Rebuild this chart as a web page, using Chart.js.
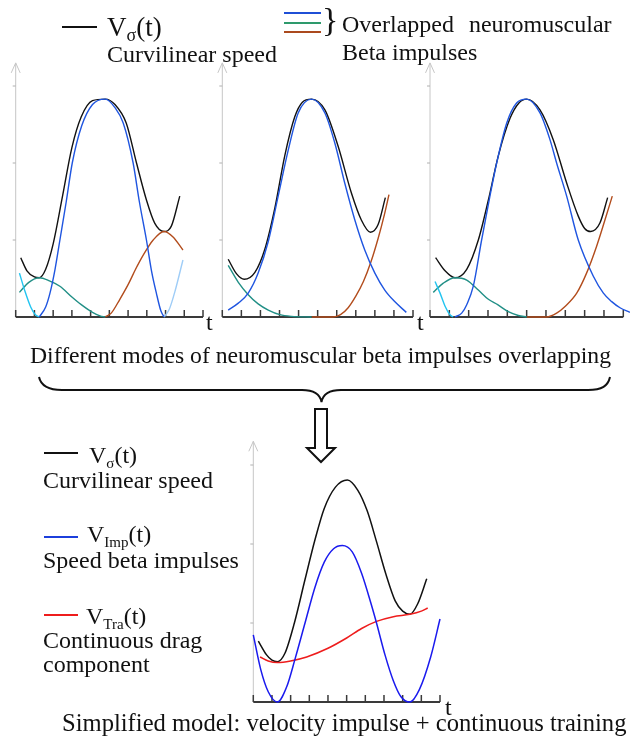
<!DOCTYPE html>
<html>
<head>
<meta charset="utf-8">
<script src="https://cdn.jsdelivr.net/npm/chart.js@4.4.1/dist/chart.umd.min.js"></script>
<style>
  body { margin: 0; background: #fff; }
  #page { position: relative; width: 631px; height: 738px; overflow: hidden;
          font-family: "Liberation Serif", "Times New Roman", serif; color: #111; }
  #page canvas { position: absolute; }
  .txt { position: absolute; font-size: 24px; line-height: 24px; white-space: nowrap; }
  .big { font-size: 27px; line-height: 27px; }
  .sub { font-size: 15px; position: relative; top: 5px; }
  .big .sub { font-size: 18px; top: 5px; }
  .key { position: absolute; height: 2px; }
</style>
</head>
<body>
<div id="page">
  <canvas id="mode1"></canvas>
  <canvas id="mode2"></canvas>
  <canvas id="mode3"></canvas>
  <canvas id="simple"></canvas>

  <svg width="631" height="738" style="position:absolute;left:0;top:0">
    <path d="M39,377 C41,386 48,390 62,390 L302,390 C314,390 320,394 321.5,402 C323,394 329,390 341,390 L588,390 C602,390 608,386 610,377"
          fill="none" stroke="#111" stroke-width="2"/>
    <polygon points="315,409 327,409 327,448 335,448 321,462 307,448 315,448"
             fill="#fff" stroke="#111" stroke-width="2"/>
  </svg>

  <!-- top legend -->
  <div class="key" style="left:62px;top:26px;width:35px;background:#111"></div>
  <div class="txt big" style="left:107px;top:14px">V<span class="sub">σ</span>(t)</div>
  <div class="txt" style="left:107px;top:42px">Curvilinear speed</div>
  <div class="key" style="left:284px;top:12px;width:37px;background:#1f4fd6"></div>
  <div class="key" style="left:284px;top:22px;width:37px;background:#2e9a6c"></div>
  <div class="key" style="left:284px;top:31px;width:37px;background:#ab4a1e"></div>
  <div class="txt" style="left:322px;top:3px;font-size:34px;line-height:34px">}</div>
  <div class="txt" style="left:342px;top:12px;word-spacing:9px">Overlapped neuromuscular</div>
  <div class="txt" style="left:342px;top:40px">Beta impulses</div>

  <div class="txt" style="left:206px;top:310px">t</div>
  <div class="txt" style="left:417px;top:310px">t</div>

  <div class="txt" style="left:30px;top:343px;font-size:23.7px">Different modes of neuromuscular beta impulses overlapping</div>

  <!-- bottom legend -->
  <div class="key" style="left:44px;top:452px;width:34px;background:#111"></div>
  <div class="txt" style="left:89px;top:443px">V<span class="sub">σ</span>(t)</div>
  <div class="txt" style="left:43px;top:468px">Curvilinear speed</div>
  <div class="key" style="left:44px;top:536px;width:34px;background:#1c3fdc"></div>
  <div class="txt" style="left:87px;top:522px">V<span class="sub">Imp</span>(t)</div>
  <div class="txt" style="left:43px;top:548px">Speed beta impulses</div>
  <div class="key" style="left:44px;top:614px;width:34px;background:#ee1c1c"></div>
  <div class="txt" style="left:86px;top:604px">V<span class="sub">Tra</span>(t)</div>
  <div class="txt" style="left:43px;top:628px">Continuous drag</div>
  <div class="txt" style="left:43px;top:652px">component</div>

  <div class="txt" style="left:445px;top:695px">t</div>
  <div class="txt" style="left:62px;top:711px;font-size:24.6px">Simplified model: velocity impulse + continuous training</div>
</div>

<script>
// axis ticks (time units, speed units)
const tTicks = [0, 1, 2, 3, 4, 5, 6, 7, 8, 9, 10];
const vTicks = [1, 2, 3];

// mode 1: [t, v] points
const p1Black = [[0.27,0.77],[0.6,0.6],[1.0,0.52],[1.26,0.51],[1.6,0.62],[2.0,0.95],[2.5,1.57],[3.0,2.2],[3.5,2.6],[4.1,2.81],[4.78,2.83],[5.3,2.76],[5.9,2.52],[6.45,2.0],[6.98,1.52],[7.42,1.22],[7.92,1.11],[8.31,1.18],[8.76,1.57]];
const p1Blue = [[1.26,0],[1.6,0.13],[1.83,0.31],[2.1,0.62],[2.36,1.0],[2.7,1.5],[3.02,2.0],[3.52,2.48],[4.1,2.76],[4.78,2.83],[5.3,2.72],[5.74,2.52],[6.27,2.0],[6.6,1.5],[6.98,1.0],[7.25,0.6],[7.51,0.31],[7.75,0.08],[7.92,0]];
const p1Cyan = [[0.2,0.57],[0.5,0.33],[0.8,0.13],[1.05,0.03],[1.26,0]];
const p1Teal = [[0.2,0.32],[0.7,0.45],[1.26,0.51],[1.8,0.47],[2.36,0.4],[3.0,0.26],[3.5,0.16],[4.1,0.06],[4.5,0.015],[4.78,0]];
const p1Brown = [[4.78,0],[5.1,0.05],[5.56,0.23],[6.0,0.42],[6.4,0.62],[6.8,0.8],[7.34,1.0],[7.92,1.11],[8.4,1.04],[8.93,0.87]];
const p1Pale = [[7.92,0],[8.2,0.1],[8.5,0.33],[8.93,0.74]];

// mode 2
const p2Black = [[0.31,0.75],[0.75,0.56],[1.15,0.49],[1.71,0.58],[2.23,0.88],[2.76,1.42],[3.28,2.1],[3.8,2.6],[4.2,2.79],[4.68,2.83],[5.38,2.69],[6.07,2.22],[6.77,1.61],[7.29,1.26],[7.77,1.1],[8.17,1.2],[8.55,1.55]];
const p2Blue = [[0.31,0.09],[0.84,0.18],[1.36,0.31],[1.88,0.57],[2.41,0.98],[2.93,1.57],[3.46,2.17],[3.98,2.65],[4.68,2.83],[5.38,2.65],[5.9,2.26],[6.42,1.74],[6.95,1.26],[7.47,0.87],[8.0,0.57],[8.52,0.35],[9.04,0.2],[9.65,0.06]];
const p2Teal = [[0.31,0.67],[0.84,0.45],[1.36,0.29],[1.88,0.17],[2.41,0.09],[3.02,0.03],[3.63,0.008],[4.68,0]];
const p2Brown = [[4.68,0],[5.8,0],[6.2,0.03],[6.6,0.12],[7.0,0.27],[7.4,0.46],[7.8,0.72],[8.17,1.02],[8.5,1.33],[8.74,1.59]];

// mode 3
const p3Black = [[0.29,0.77],[0.78,0.6],[1.29,0.51],[1.9,0.62],[2.5,1.0],[3.02,1.52],[3.53,2.09],[4.14,2.58],[4.6,2.78],[5.0,2.83],[5.69,2.69],[6.38,2.3],[7.07,1.74],[7.67,1.31],[8.0,1.15],[8.31,1.11],[8.79,1.22],[9.19,1.55]];
const p3Blue = [[1.29,0],[1.64,0.05],[1.9,0.16],[2.24,0.4],[2.67,1.0],[3.1,1.57],[3.45,2.0],[3.97,2.52],[4.48,2.78],[5.0,2.83],[5.69,2.65],[6.21,2.3],[6.55,2.0],[7.07,1.57],[7.67,1.0],[8.45,0.53],[8.97,0.31],[9.4,0.2],[9.83,0.12],[10.34,0.06]];
const p3Cyan = [[0.26,0.46],[0.52,0.31],[0.78,0.14],[1.03,0.03],[1.2,0]];
const p3Teal = [[0.17,0.32],[0.69,0.44],[1.29,0.51],[1.9,0.48],[2.5,0.35],[3.02,0.23],[3.5,0.16],[4.05,0.07],[4.57,0.02],[5.0,0]];
const p3Brown = [[5.0,0],[6.03,0],[6.55,0.05],[7.0,0.14],[7.59,0.31],[8.1,0.57],[8.62,0.92],[9.05,1.26],[9.43,1.57]];

// simplified model
const simBlack = [[0.27,0.77],[0.7,0.6],[1.0,0.53],[1.29,0.51],[1.7,0.62],[2.2,1.0],[2.77,1.55],[3.3,2.05],[3.8,2.45],[4.4,2.72],[5.04,2.81],[5.6,2.68],[6.1,2.42],[6.6,2.03],[7.1,1.62],[7.6,1.28],[8.0,1.15],[8.39,1.11],[8.8,1.24],[9.29,1.56]];
const simBlue = [[0,0.85],[0.4,0.41],[0.8,0.13],[1.29,0],[1.8,0.2],[2.23,0.54],[2.77,1.0],[3.3,1.45],[3.8,1.77],[4.3,1.94],[4.77,1.98],[5.3,1.9],[5.8,1.63],[6.3,1.25],[6.6,1.0],[7.05,0.6],[7.5,0.27],[7.9,0.07],[8.39,0],[8.9,0.16],[9.5,0.57],[10.0,1.05]];
const simRed = [[0.36,0.57],[0.8,0.52],[1.29,0.5],[2.0,0.52],[2.86,0.57],[4.0,0.68],[5.0,0.81],[5.8,0.93],[6.6,1.02],[7.5,1.08],[8.39,1.11],[9.0,1.15],[9.34,1.19]];

const BLACK = '#111', BLUE = '#1f55e0', TEAL = '#218f86', CYAN = '#22c4f0',
      PALE = '#9fcdf7', BROWN = '#b24c1c';

// axes: grey arrow on v, dark baseline with tick marks on t
const axesPlugin = {
  id: 'axes',
  beforeDatasetsDraw(chart, args, opts) {
    const { ctx, scales: { x, y } } = chart;
    const x0 = x.getPixelForValue(0), y0 = y.getPixelForValue(0);
    const yTop = y.getPixelForValue(opts.top);
    ctx.save();
    ctx.strokeStyle = '#c6c6c6';
    ctx.lineWidth = 1;
    ctx.beginPath();
    ctx.moveTo(x0, y0);
    ctx.lineTo(x0, yTop);
    ctx.moveTo(x0 - 4.5, yTop + 10);
    ctx.lineTo(x0, yTop);
    ctx.lineTo(x0 + 4.5, yTop + 10);
    ctx.stroke();
    ctx.strokeStyle = '#b0b0b0';
    vTicks.forEach(v => {
      const py = y.getPixelForValue(v);
      ctx.beginPath();
      ctx.moveTo(x0 - 3, py);
      ctx.lineTo(x0, py);
      ctx.stroke();
    });
    ctx.strokeStyle = '#3a3a3a';
    ctx.lineWidth = 2;
    ctx.beginPath();
    ctx.moveTo(x.getPixelForValue(tTicks[0]), y0);
    ctx.lineTo(x.getPixelForValue(tTicks[tTicks.length - 1]), y0);
    ctx.stroke();
    ctx.lineWidth = 1.5;
    tTicks.forEach(t => {
      const px = x.getPixelForValue(t);
      ctx.beginPath();
      ctx.moveTo(px, y0);
      ctx.lineTo(px, y0 - 7);
      ctx.stroke();
    });
    ctx.restore();
  }
};

function curve(points, color, width) {
  return {
    data: points.map(p => ({ x: p[0], y: p[1] })),
    borderColor: color,
    borderWidth: width || 1.4,
    pointRadius: 0,
    fill: false,
    cubicInterpolationMode: 'monotone'
  };
}

// box = canvas [left, top, w, h] on the page; origin = page pixel of (0,0); unit = px per t, px per v
function panel(id, box, origin, unit, datasets) {
  const cv = document.getElementById(id);
  cv.width = box[2];
  cv.height = box[3];
  cv.style.left = box[0] + 'px';
  cv.style.top = box[1] + 'px';
  return new Chart(cv.getContext('2d'), {
    type: 'line',
    data: { datasets: datasets },
    options: {
      responsive: false,
      animation: false,
      layout: { padding: 0 },
      scales: {
        x: { type: 'linear', display: false,
             min: -(origin[0] - box[0]) / unit[0], max: (box[0] + box[2] - origin[0]) / unit[0] },
        y: { type: 'linear', display: false,
             min: -(box[1] + box[3] - origin[1]) / unit[1], max: (origin[1] - box[1]) / unit[1] }
      },
      plugins: { legend: { display: false }, tooltip: { enabled: false }, axes: { top: 3.3 } }
    },
    plugins: [axesPlugin]
  });
}

panel('mode1', [0, 55, 215, 280], [15.7, 317], [18.73, 77], [
  curve(p1Blue, BLUE), curve(p1Cyan, CYAN), curve(p1Pale, PALE),
  curve(p1Teal, TEAL), curve(p1Brown, BROWN), curve(p1Black, BLACK)
]);

panel('mode2', [208, 55, 214, 280], [222.3, 317], [19.07, 77], [
  curve(p2Blue, BLUE), curve(p2Teal, TEAL), curve(p2Brown, BROWN), curve(p2Black, BLACK)
]);

panel('mode3', [420, 55, 211, 280], [430, 317], [19.33, 77], [
  curve(p3Blue, BLUE), curve(p3Cyan, CYAN), curve(p3Teal, TEAL),
  curve(p3Brown, BROWN), curve(p3Black, BLACK)
]);

panel('simple', [236, 435, 215, 285], [253.3, 702], [18.67, 79], [
  curve(simBlue, '#1a1aee', 1.5), curve(simRed, '#ee1c1c', 1.5), curve(simBlack, BLACK, 1.5)
]);
</script>
</body>
</html>
